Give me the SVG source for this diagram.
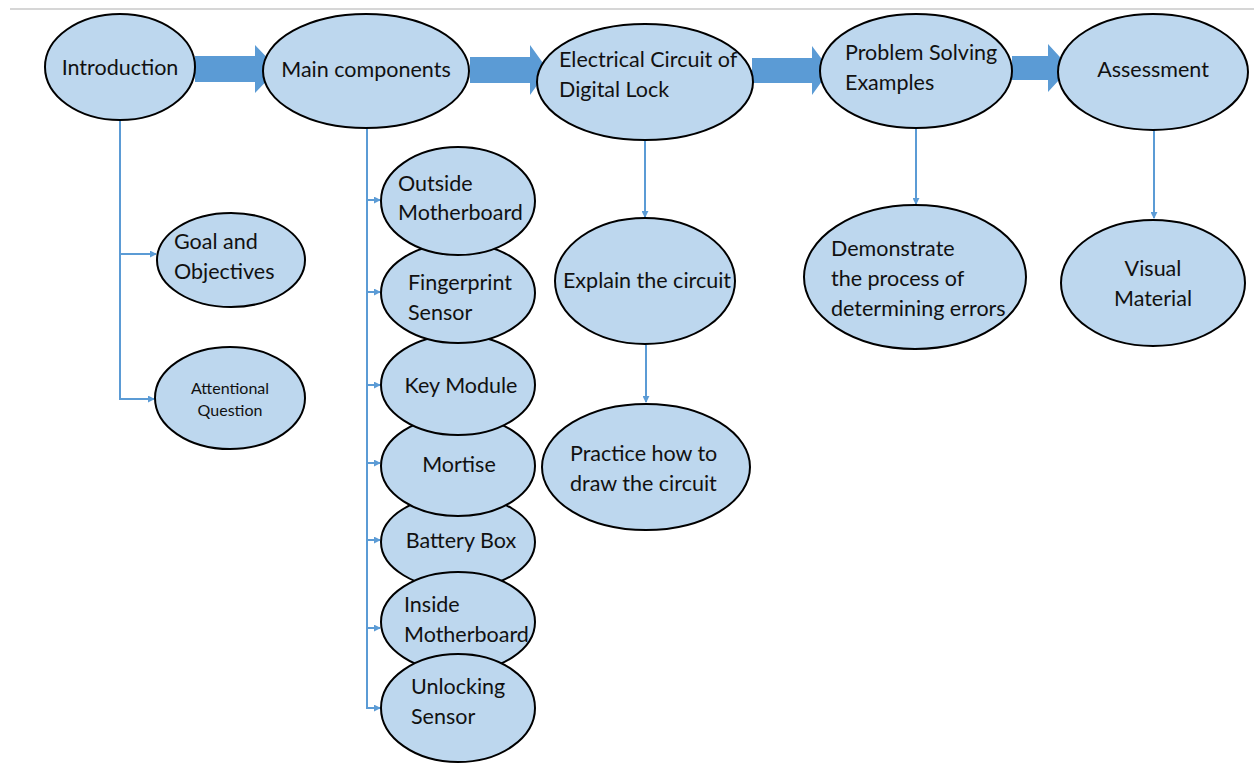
<svg xmlns="http://www.w3.org/2000/svg" width="1254" height="770" viewBox="0 0 1254 770">
<style>
.n{fill:#bdd7ee;stroke:#000;stroke-width:2}
.t{font-family:Lato,"Open Sans","Liberation Sans",sans-serif;font-size:21.5px;fill:#111}
.s{font-size:16px}
.c{fill:none;stroke:#5b9bd5;stroke-width:2}
.b{fill:#5b9bd5}
</style>
<defs>
<marker id="ah" viewBox="0 0 8 8" refX="7" refY="4" markerWidth="7" markerHeight="7" markerUnits="userSpaceOnUse" orient="auto"><path d="M0,0 L8,4 L0,8 z" fill="#5b9bd5"/></marker>
</defs>
<rect width="1254" height="770" fill="#fff"/>
<line x1="10" y1="9" x2="1254" y2="9" stroke="#d6d6d6" stroke-width="2"/>
<g id="connectors">
<polygon class="b" points="195,56 255,56 255,45 278,69 255,93 255,82 195,82"/>
<polygon class="b" points="470,57 530,57 530,45 548,70 530,95 530,83 470,83"/>
<polygon class="b" points="752,58 812,58 812,46 830,70 812,95 812,83 752,83"/>
<polygon class="b" points="1012,56 1048,56 1048,44 1070,68 1048,92 1048,80 1012,80"/>
<path class="c" d="M120,118 V399 H154" marker-end="url(#ah)"/>
<path class="c" d="M120,254 H156" marker-end="url(#ah)"/>
<path class="c" d="M367,128 V708 H380" marker-end="url(#ah)"/>
<path class="c" d="M367,200 H380" marker-end="url(#ah)"/>
<path class="c" d="M367,292 H380" marker-end="url(#ah)"/>
<path class="c" d="M367,385 H380" marker-end="url(#ah)"/>
<path class="c" d="M367,463 H380" marker-end="url(#ah)"/>
<path class="c" d="M367,540 H380" marker-end="url(#ah)"/>
<path class="c" d="M367,628 H380" marker-end="url(#ah)"/>
<path class="c" d="M645,140 V217" marker-end="url(#ah)"/>
<path class="c" d="M646,345 V402" marker-end="url(#ah)"/>
<path class="c" d="M916,128 V204" marker-end="url(#ah)"/>
<path class="c" d="M1154,130 V218" marker-end="url(#ah)"/>
</g>
<g id="introduction"><ellipse class="n" cx="120" cy="67" rx="75" ry="53"/><text class="t" x="120" y="75" text-anchor="middle">Introduction</text></g>
<g id="main-components"><ellipse class="n" cx="366" cy="71" rx="103" ry="57"/><text class="t" x="366" y="77" text-anchor="middle">Main components</text></g>
<g id="electrical-circuit"><ellipse class="n" cx="645" cy="82" rx="108" ry="58"/><text class="t" x="559" y="67">Electrical Circuit of</text><text class="t" x="559" y="97">Digital Lock</text></g>
<g id="problem-solving"><ellipse class="n" cx="916" cy="71" rx="96" ry="57"/><text class="t" x="845" y="60">Problem Solving</text><text class="t" x="845" y="90">Examples</text></g>
<g id="assessment"><ellipse class="n" cx="1153" cy="72" rx="95" ry="58"/><text class="t" x="1153" y="77" text-anchor="middle">Assessment</text></g>
<g id="goal-objectives"><ellipse class="n" cx="231" cy="260" rx="74" ry="47"/><text class="t" x="174" y="249">Goal and</text><text class="t" x="174" y="279">Objectives</text></g>
<g id="attentional-question"><ellipse class="n" cx="230" cy="398" rx="75" ry="51"/><text class="t s" x="230" y="394" text-anchor="middle">Attentional</text><text class="t s" x="230" y="416" text-anchor="middle">Question</text></g>
<g id="battery-box"><ellipse class="n" cx="458" cy="542" rx="77" ry="47"/><text class="t" x="461" y="548" text-anchor="middle">Battery Box</text></g>
<g id="mortise"><ellipse class="n" cx="458" cy="466" rx="77" ry="50"/><text class="t" x="459" y="472" text-anchor="middle">Mortise</text></g>
<g id="key-module"><ellipse class="n" cx="458" cy="385" rx="77" ry="50"/><text class="t" x="461" y="393" text-anchor="middle">Key Module</text></g>
<g id="fingerprint-sensor"><ellipse class="n" cx="458" cy="293" rx="77" ry="50"/><text class="t" x="408" y="290">Fingerprint</text><text class="t" x="408" y="320">Sensor</text></g>
<g id="outside-motherboard"><ellipse class="n" cx="458" cy="201" rx="77" ry="54"/><text class="t" x="398" y="191">Outside</text><text class="t" x="398" y="220">Motherboard</text></g>
<g id="inside-motherboard"><ellipse class="n" cx="458" cy="622" rx="77" ry="50"/><text class="t" x="404" y="612">Inside</text><text class="t" x="404" y="642">Motherboard</text></g>
<g id="unlocking-sensor"><ellipse class="n" cx="458" cy="708" rx="77" ry="54"/><text class="t" x="411" y="694">Unlocking</text><text class="t" x="411" y="724">Sensor</text></g>
<g id="explain-circuit"><ellipse class="n" cx="645" cy="281" rx="90" ry="63"/><text class="t" x="647" y="288" text-anchor="middle">Explain the circuit</text></g>
<g id="practice-circuit"><ellipse class="n" cx="646" cy="467" rx="104" ry="63"/><text class="t" x="570" y="461">Practice how to</text><text class="t" x="570" y="491">draw the circuit</text></g>
<g id="demonstrate"><ellipse class="n" cx="915" cy="277" rx="111" ry="72"/><text class="t" x="831" y="256">Demonstrate</text><text class="t" x="831" y="286">the process of</text><text class="t" x="831" y="316">determining errors</text></g>
<g id="visual-material"><ellipse class="n" cx="1153" cy="283" rx="92" ry="63"/><text class="t" x="1153" y="276" text-anchor="middle">Visual</text><text class="t" x="1153" y="306" text-anchor="middle">Material</text></g>
</svg>
